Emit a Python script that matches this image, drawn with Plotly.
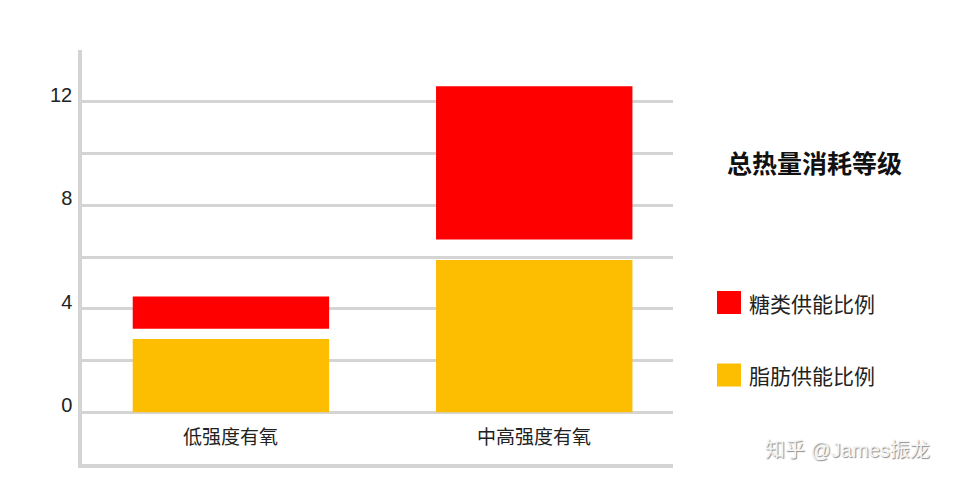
import plotly.graph_objects as go

categories = ["低强度有氧", "中高强度有氧"]
fat_top = [2.83, 5.88]
sugar_bottom = [3.23, 6.68]
sugar_top = [4.47, 12.6]
series_names = ["糖类供能比例", "脂肪供能比例"]
series_colors = ["#FF0000", "#FDBD00"]
legend_title = "总热量消耗等级"
y_tickvals = [0, 2, 4, 6, 8, 10, 12]
y_ticktext = ["0", "", "4", "", "8", "", "12"]
watermark = "知乎 @James振龙"

FONT = "Liberation Sans, Noto Sans CJK SC, sans-serif"
CJK = "Noto Sans CJK SC, sans-serif"
GRID = "#D4D4D4"

xs = list(range(len(categories)))

fig = go.Figure()
fig.add_trace(go.Bar(
    x=xs, y=fat_top, base=[0] * len(xs), name=series_names[1],
    marker=dict(color=series_colors[1], line=dict(width=0)), width=0.6475,
    showlegend=False, hoverinfo="skip"))
fig.add_trace(go.Bar(
    x=xs, y=[t - b for t, b in zip(sugar_top, sugar_bottom)], base=sugar_bottom,
    name=series_names[0],
    marker=dict(color=series_colors[0], line=dict(width=0)), width=0.6475,
    showlegend=False, hoverinfo="skip"))

# category labels inside plot area
for xi, c in zip(xs, categories):
    fig.add_annotation(x=xi, y=-0.88, xref="x", yref="y", text=c, showarrow=False,
                       font=dict(family=CJK, size=19, color="#222222"),
                       xanchor="center", yanchor="middle")

# custom legend
fig.add_annotation(x=814, y=162, xref="paper", yref="paper", text=legend_title,
                   showarrow=False, font=dict(family=CJK, size=25, color="#111111", weight=700),
                   xanchor="center", yanchor="middle")
leg_y = [302.5, 375]
for name, col, yy in zip(series_names, series_colors, leg_y):
    fig.add_annotation(x=747, y=yy, xref="paper", yref="paper", text=name,
                       showarrow=False, font=dict(family=CJK, size=21, color="#222222"),
                       xanchor="left", yanchor="middle")
    fig.add_shape(type="rect", xref="paper", yref="paper",
                  x0=717, x1=741, y0=yy - 11.5, y1=yy + 11.5,
                  fillcolor=col, line=dict(width=0))

fig.add_annotation(x=847, y=450, xref="paper", yref="paper", text=watermark,
                   showarrow=False,
                   font=dict(family=FONT, size=20, color="#F4F4F4",
                             shadow="1px 1px 1px #8a8a8a"),
                   xanchor="center", yanchor="middle")

W, H = 955, 488
ml, mr, mt, mb = 82, 955 - 673, 50, 24
pw, ph = W - ml - mr, H - mt - mb

# convert pixel-based paper coordinates for annotations/shapes
for a in fig.layout.annotations:
    if a.xref == "paper":
        a.x = (a.x - ml) / pw
        a.y = (H - mb - a.y) / ph
for s in fig.layout.shapes:
    s.x0 = (s.x0 - ml) / pw
    s.x1 = (s.x1 - ml) / pw
    y0 = (H - mb - s.y0) / ph
    y1 = (H - mb - s.y1) / ph
    s.y0, s.y1 = y1, y0

fig.update_layout(
    width=W, height=H,
    margin=dict(l=ml, r=mr, t=mt, b=mb, pad=0),
    paper_bgcolor="white", plot_bgcolor="white",
    barmode="overlay", showlegend=False,
    font=dict(family=FONT, color="#222222"),
    xaxis=dict(range=[-0.491, 1.4575], showgrid=False, zeroline=False,
               showticklabels=False, ticks="",
               showline=True, linecolor=GRID, linewidth=3.5, fixedrange=True),
    yaxis=dict(range=[-2, 14], tickvals=y_tickvals, ticktext=y_ticktext,
               showgrid=True, gridcolor=GRID, gridwidth=3.3, zeroline=False,
               showline=True, linecolor=GRID, linewidth=3.5, ticks="",
               tickfont=dict(family=FONT, size=20, color="#222222"),
               ticklabelshift=-7, ticklabelstandoff=2, fixedrange=True),
)

fig.write_html("out.html")
